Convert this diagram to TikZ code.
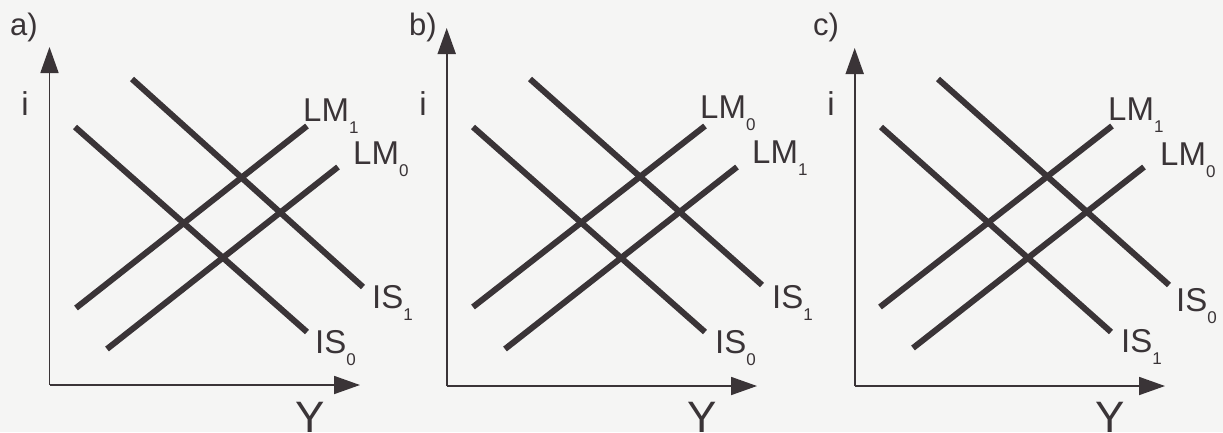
\documentclass[tikz,border=0pt]{standalone}
\usepackage{fontspec}
\setmainfont{Liberation Sans}
\usetikzlibrary{arrows.meta}
\definecolor{ink}{HTML}{3A3437}
\definecolor{paper}{HTML}{F5F5F4}
\newcommand\lsub[1]{\raisebox{-12pt}{\fontsize{17}{17}\selectfont #1}}
\tikzset{
  curve/.style={line width=6pt, color=ink, line cap=butt},
  axis/.style={line width=1.8pt, color=ink, -{Triangle[length=26pt,width=18pt]}},
  lbl/.style={inner sep=0pt, anchor=base west, text=ink, font=\fontsize{33}{36}\selectfont},
  axlbl/.style={inner sep=0pt, anchor=base, text=ink, font=\fontsize{33}{36}\selectfont},
  ylbl/.style={inner sep=0pt, anchor=base, text=ink, font=\fontsize{44}{48}\selectfont},
  panel/.style={inner sep=0pt, anchor=base west, text=ink, font=\fontsize{31}{34}\selectfont},
}
\begin{document}
\begin{tikzpicture}[x=1pt,y=-1pt]
\fill[paper] (0,0) rectangle (1223,432);
\useasboundingbox (0,0) rectangle (1223,432);
% ---------- panel a ----------
\node[panel] (pa) at (10,35) {a)};
\coordinate (oa) at (49.5,385);
\coordinate (ya) at (49.5,47);
\coordinate (xa) at (360,385);
\draw[axis] (oa) -- (ya);
\draw[axis] (oa) -- (xa);
\node[axlbl] (ia) at (25,115) {i};
\node[ylbl] (Ya) at (310,432) {Y};
\coordinate (aIS0s) at (75,127);  \coordinate (aIS0e) at (307,332);
\coordinate (aIS1s) at (132,79);  \coordinate (aIS1e) at (363,287);
\coordinate (aLM1s) at (76,308);  \coordinate (aLM1e) at (307,126);
\coordinate (aLM0s) at (107,349); \coordinate (aLM0e) at (338,167);
\draw[curve] (aIS0s) -- (aIS0e);
\draw[curve] (aIS1s) -- (aIS1e);
\draw[curve] (aLM1s) -- (aLM1e);
\draw[curve] (aLM0s) -- (aLM0e);
\node[lbl] (aLM1) at (303,121) {LM\lsub{1}};
\node[lbl] (aLM0) at (353,164) {LM\lsub{0}};
\node[lbl] (aIS1) at (372,308) {IS\lsub{1}};
\node[lbl] (aIS0) at (315,353) {IS\lsub{0}};
% ---------- panel b ----------
\node[panel] (pb) at (409,35) {b)};
\coordinate (ob) at (446.7,386);
\coordinate (yb) at (446.7,28);
\coordinate (xb) at (757,386);
\draw[axis] (ob) -- (yb);
\draw[axis] (ob) -- (xb);
\node[axlbl] (ib) at (423,115) {i};
\node[ylbl] (Yb) at (702,432) {Y};
\coordinate (bIS0s) at (473,127);  \coordinate (bIS0e) at (705,332);
\coordinate (bIS1s) at (530,79);   \coordinate (bIS1e) at (762,285);
\coordinate (bLM0s) at (473,307);  \coordinate (bLM0e) at (705,126);
\coordinate (bLM1s) at (505,349);  \coordinate (bLM1e) at (737,167);
\draw[curve] (bIS0s) -- (bIS0e);
\draw[curve] (bIS1s) -- (bIS1e);
\draw[curve] (bLM0s) -- (bLM0e);
\draw[curve] (bLM1s) -- (bLM1e);
\node[lbl] (bLM0) at (700,118) {LM\lsub{0}};
\node[lbl] (bLM1) at (752,163) {LM\lsub{1}};
\node[lbl] (bIS1) at (772,308) {IS\lsub{1}};
\node[lbl] (bIS0) at (715,353) {IS\lsub{0}};
% ---------- panel c ----------
\node[panel] (pc) at (813,35) {c)};
\coordinate (oc) at (854.7,386);
\coordinate (yc) at (854.7,48);
\coordinate (xc) at (1165,386);
\draw[axis] (oc) -- (yc);
\draw[axis] (oc) -- (xc);
\node[axlbl] (ic) at (831,115) {i};
\node[ylbl] (Yc) at (1110,432) {Y};
\coordinate (cIS1s) at (881,127);  \coordinate (cIS1e) at (1111,332);
\coordinate (cIS0s) at (938,79);   \coordinate (cIS0e) at (1169,285);
\coordinate (cLM1s) at (880,307);  \coordinate (cLM1e) at (1112,126);
\coordinate (cLM0s) at (913,348);  \coordinate (cLM0e) at (1144,167);
\draw[curve] (cIS1s) -- (cIS1e);
\draw[curve] (cIS0s) -- (cIS0e);
\draw[curve] (cLM1s) -- (cLM1e);
\draw[curve] (cLM0s) -- (cLM0e);
\node[lbl] (cLM1) at (1108,120) {LM\lsub{1}};
\node[lbl] (cLM0) at (1160,165) {LM\lsub{0}};
\node[lbl] (cIS0) at (1176,311) {IS\lsub{0}};
\node[lbl] (cIS1) at (1121,352) {IS\lsub{1}};
\end{tikzpicture}
\end{document}
